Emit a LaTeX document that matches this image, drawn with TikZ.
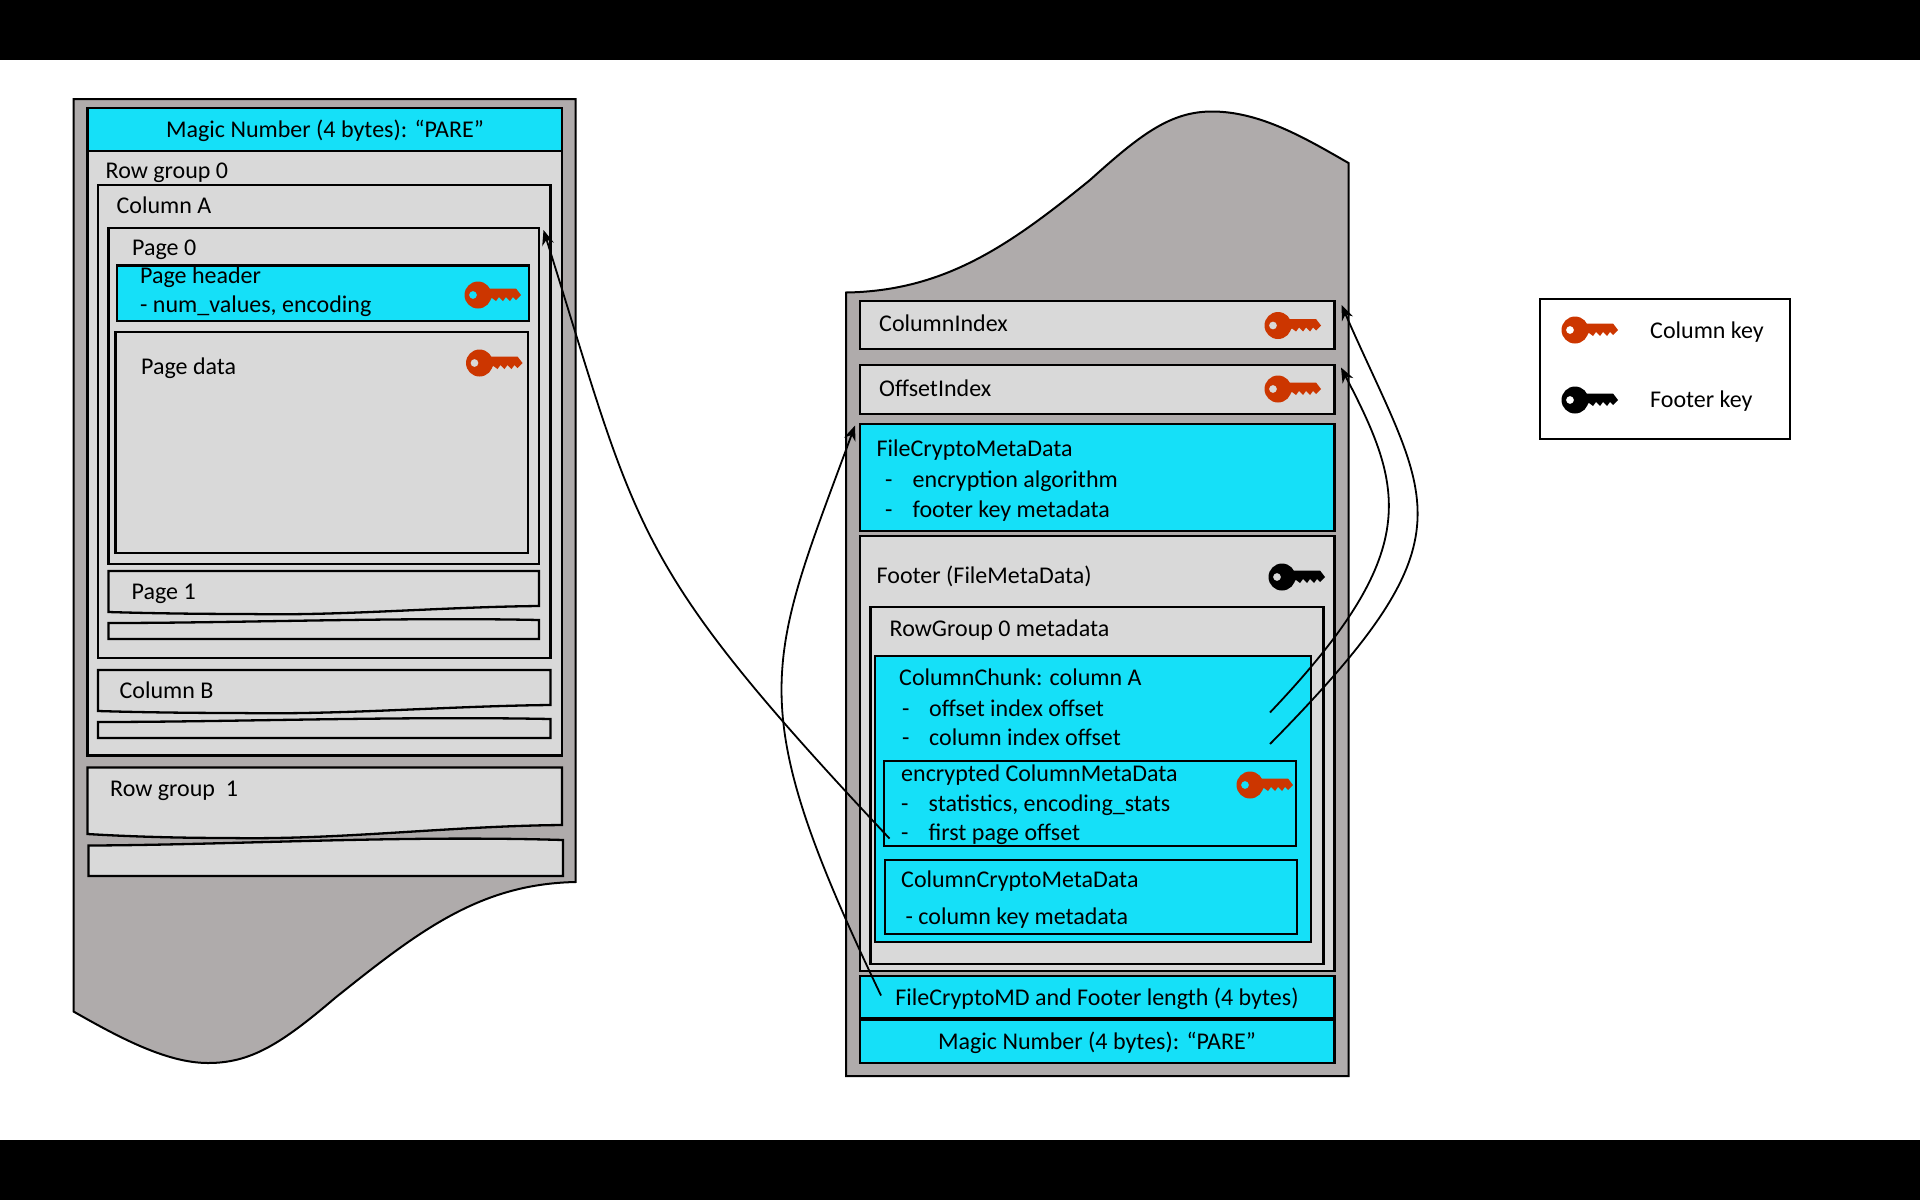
\documentclass[tikz,border=0pt]{standalone}
\usepackage{fontspec}
\setmainfont{Carlito}
\usetikzlibrary{arrows.meta}
\definecolor{sheetgrey}{HTML}{AFABAB}
\definecolor{boxgrey}{HTML}{D9D9D9}
\definecolor{cryptoblue}{HTML}{15E0F8}
\definecolor{keyred}{HTML}{CC3600}
\tikzset{
  sheet/.style={draw=black, line width=2pt, fill=sheetgrey},
  greybox/.style={draw=black, line width=2.3pt, fill=boxgrey},
  bluebox/.style={draw=black, line width=2.3pt, fill=cryptoblue},
  lbl/.style={anchor=base west, inner sep=0pt, yshift=-1pt, font=\fontsize{24}{28}\selectfont},
  ctr/.style={anchor=base, inner sep=0pt, yshift=-0.5pt, font=\fontsize{24}{28}\selectfont},
  link/.style={line width=1.8pt, -{Stealth[length=15pt, width=12pt]}},
  key/.pic={
    \path[pic actions, even odd rule] (0,0) circle (13.5) (-5,0) circle (4);
    \path[pic actions] (8,-6.5) -- (38,-6.5) -- (43,0) -- (38,5) -- (35,2) -- (32,6) -- (28,2)
      -- (25,6) -- (21,2) -- (18,6) -- (14,3) -- (8,6.5) -- cycle;
  }
}
\begin{document}
\begin{tikzpicture}[x=1pt, y=-1pt]
  \useasboundingbox (0,0) rectangle (1920,1200);
  \fill[white] (0,0) rectangle (1920,1200);
  \fill[black] (0,0) rectangle (1920,60);
  \fill[black] (0,1140) rectangle (1920,1200);

  % left sheet
  \draw[sheet] (73.5,99) -- (575.5,99) -- (575.5,882)
    .. controls (480,884) and (420,930) .. (335,998)
    .. controls (280,1045) and (250,1063) .. (208,1063)
    .. controls (165,1063) and (115,1035) .. (73.5,1011.5) -- cycle;
  \draw[bluebox] (87.5,108) rectangle (562,151);
  \draw[greybox] (87.5,151) rectangle (562,755.5);
  \draw[greybox] (98,185) rectangle (550.5,658);
  \draw[greybox] (108.5,228) rectangle (539,564);
  \draw[bluebox] (117,265.5) rectangle (529,321);
  \draw[greybox] (115.5,332) rectangle (528,553);
  \draw[greybox] (108.5,571) -- (539,571) -- (539,606)
    .. controls (440,607) and (340,616) .. (250,614) .. controls (190,614) and (140,613) .. (108.5,612) -- cycle;
  \draw[greybox] (108.5,623) .. controls (240,623) and (400,617) .. (539,620) -- (539,639) -- (108.5,639) -- cycle;
  \draw[greybox] (98,670) -- (550.5,670) -- (550.5,705)
    .. controls (450,706) and (340,715) .. (240,713) .. controls (180,713) and (130,712) .. (98,711) -- cycle;
  \draw[greybox] (98,722) .. controls (230,722) and (400,716) .. (550.5,719) -- (550.5,738) -- (98,738) -- cycle;
  \draw[greybox] (87.5,767.5) -- (562,767.5) -- (562,825)
    .. controls (450,826) and (340,840) .. (230,838) .. controls (170,838) and (120,836) .. (87.5,834) -- cycle;
  \draw[greybox] (88.5,845.5) .. controls (230,845) and (400,835) .. (563,840) -- (563,876) -- (88.5,876) -- cycle;

  % right sheet
  \draw[sheet] (846,292.5) .. controls (945,291) and (1010,245) .. (1090,180)
    .. controls (1140,135) and (1170,111.5) .. (1212,111.5)
    .. controls (1260,111.5) and (1305,138) .. (1348.5,163)
    -- (1348.5,1076) -- (846,1076) -- cycle;
  \draw[greybox] (860,301) rectangle (1334.5,349);
  \draw[greybox] (860,365) rectangle (1334.5,414);
  \draw[bluebox] (860,424) rectangle (1334.5,531);
  \draw[greybox] (860,536) rectangle (1334.5,971);
  \draw[greybox] (870.5,607) rectangle (1323.5,964);
  \draw[bluebox] (875,656) rectangle (1311,942);
  \draw[bluebox] (884,761) rectangle (1296,846);
  \draw[bluebox] (885,860) rectangle (1297,934);
  \draw[bluebox] (860,976) rectangle (1334.5,1018.5);
  \draw[bluebox] (860,1020) rectangle (1334.5,1063);

  % legend
  \draw[draw=black, line width=2.3pt, fill=white] (1540,299) rectangle (1790,439);

  % keys
  \pic[fill=keyred] at (478,295) {key};
  \pic[fill=keyred] at (479.5,363) {key};
  \pic[fill=keyred] at (1278,325.5) {key};
  \pic[fill=keyred] at (1278,389) {key};
  \pic[fill=black] at (1282,577) {key};
  \pic[fill=keyred] at (1250,785) {key};
  \pic[fill=keyred] at (1575,330) {key};
  \pic[fill=black] at (1575,400) {key};

  % left labels
  \node[ctr] (magicleft) at (325,137) {Magic Number (4 bytes): “PARE”};
  \node[lbl] (rowzero) at (105.5,177) {Row group 0};
  \node[lbl] (cola) at (116.5,212) {Column A};
  \node[lbl] (pagezero) at (132,254) {Page 0};
  \node[lbl] (pagehdr) at (140,282.5) {Page header};
  \node[lbl] (numvalues) at (140,311.5) {- num\_values, encoding};
  \node[lbl] (pagedata) at (141,373) {Page data};
  \node[lbl] (pageone) at (131.5,598.5) {Page 1};
  \node[lbl] (colb) at (119.5,697.5) {Column B};
  \node[lbl] (rowone) at (110,795.5) {Row group\ \ 1};

  % right labels
  \node[lbl] (colindex) at (879,330) {ColumnIndex};
  \node[lbl] (offindex) at (879,395) {OffsetIndex};
  \node[lbl] (filecrypto) at (876.5,455.5) {FileCryptoMetaData};
  \node[lbl] (algdash) at (885,486.5) {-};
  \node[lbl] (alg) at (912.5,486.5) {encryption algorithm};
  \node[lbl] (fkmdash) at (885,516) {-};
  \node[lbl] (fkm) at (912.5,516) {footer key metadata};
  \node[lbl] (footer) at (876.5,582.5) {Footer (FileMetaData)};
  \node[lbl] (rgmeta) at (889.5,635.5) {RowGroup 0 metadata};
  \node[lbl] (chunk) at (899,684) {ColumnChunk: column A};
  \node[lbl] (oiodash) at (902,715) {-};
  \node[lbl] (oio) at (929,715) {offset index offset};
  \node[lbl] (ciodash) at (902,744) {-};
  \node[lbl] (cio) at (929,744) {column index offset};
  \node[lbl] (enccmd) at (901,780.5) {encrypted ColumnMetaData};
  \node[lbl] (statsdash) at (901,810) {-};
  \node[lbl] (stats) at (928.5,810) {statistics, encoding\_stats};
  \node[lbl] (fpodash) at (901,839) {-};
  \node[lbl] (fpo) at (928.5,839) {first page offset};
  \node[lbl] (cryptocmd) at (901,886) {ColumnCryptoMetaData};
  \node[lbl] (ckm) at (905.5,923) {- column key metadata};
  \node[ctr] (fclen) at (1097,1005) {FileCryptoMD and Footer length (4 bytes)};
  \node[ctr] (magicright) at (1097,1049) {Magic Number (4 bytes): “PARE”};

  % legend labels
  \node[lbl] (colkey) at (1650,337.5) {Column key};
  \node[lbl] (footkey) at (1650,406.5) {Footer key};

  % pointers
  \coordinate (fpoend) at (889.5,838.5);
  \coordinate (pagetop) at (543.5,230);
  \coordinate (lenend) at (881,995.5);
  \coordinate (cryptotop) at (855,425.5);
  \coordinate (oioend) at (1270,712.5);
  \coordinate (offtop) at (1341,367.5);
  \coordinate (cioend) at (1270,744);
  \coordinate (coltop) at (1341.5,305);
  \draw[link] (fpoend) .. controls (629.5,561.5) and (639.5,535) .. (pagetop);
  \draw[link] (lenend) .. controls (740,700.5) and (766.5,665.5) .. (cryptotop);
  \draw[link] (oioend) .. controls (1423.5,551) and (1404.5,489.5) .. (offtop);
  \draw[link] (cioend) .. controls (1479,532) and (1429,505) .. (coltop);
\end{tikzpicture}
\end{document}
